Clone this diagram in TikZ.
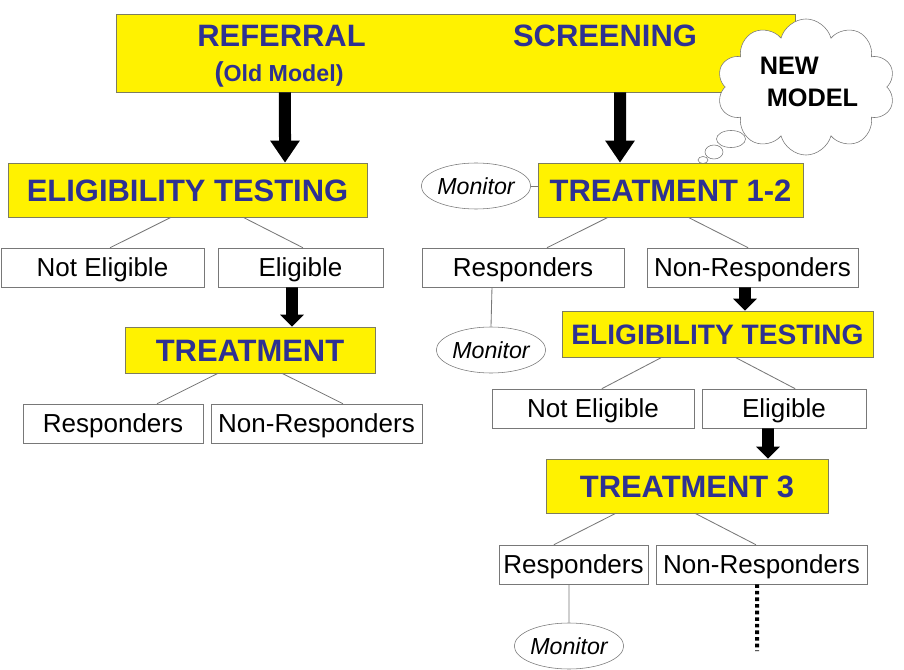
\documentclass[tikz,border=0pt]{standalone}
\usepackage{fontspec}
\setmainfont{Liberation Sans}
\usepackage{tikz}
\usetikzlibrary{arrows.meta,shapes.geometric,shapes.symbols}

\definecolor{titleblue}{RGB}{46,49,146}
\definecolor{boxline}{RGB}{120,120,120}
\definecolor{yellowline}{RGB}{125,125,95}

\begin{document}
\begin{tikzpicture}
	[x=0.025cm,y=-0.025cm,
		title node/.style={rectangle,draw=yellowline,fill=yellow,text=titleblue,font=\bfseries\fontsize{22}{26}\selectfont,inner sep=0pt,text height=16pt,text depth=0pt,minimum height=1.35cm},
		base node/.style={rectangle,draw=boxline,fill=white,font=\fontsize{18.5}{22}\selectfont,inner sep=0pt,text height=13.2pt,text depth=0pt,minimum height=0.975cm},
		monitor node/.style={ellipse,draw=boxline,fill=white,font=\itshape\fontsize{16.5}{20}\selectfont,inner sep=0pt,minimum width=2.725cm,minimum height=1.15cm},
		bubble/.style={ellipse,draw=boxline,fill=white,inner sep=0pt},
		branch/.style={draw=boxline,line width=0.6pt},
		big arrow/.style={line width=0.3cm,-{Triangle[width=0.7cm,length=0.55cm]}},
		small arrow/.style={line width=0.29cm,-{Triangle[width=0.58cm,length=0.3cm]}}]

	\useasboundingbox (0,0) rectangle (904,670);

	% top banner
	\node[title node,minimum width=16.975cm,minimum height=1.95cm] (top) at (455.5,53) {};
	\node[text=titleblue,font=\bfseries\fontsize{22}{26}\selectfont,anchor=base] (referral) at (281.5,47) {REFERRAL};
	\node[text=titleblue,font=\bfseries\fontsize{22}{26}\selectfont,anchor=base] (screening) at (605,47) {SCREENING};
	\node[text=titleblue,font=\bfseries\fontsize{16.5}{20}\selectfont,anchor=base,inner sep=0pt] (oldmodel) at (279,82) {{\fontsize{19.5}{20}\selectfont(}Old Model)};

	% thought cloud
	\node[cloud,cloud puffs=10,draw=boxline,fill=white,minimum width=4.45cm,minimum height=3.4cm] (cloud) at (806,87) {};
	\node[bubble,minimum width=0.725cm,minimum height=0.425cm] (bubble1) at (731,139) {};
	\node[bubble,minimum width=0.45cm,minimum height=0.35cm] (bubble2) at (714,152) {};
	\node[bubble,minimum width=0.25cm,minimum height=0.175cm] (bubble3) at (703,160) {};
	\node[font=\bfseries\fontsize{18}{22.75}\selectfont,align=left,inner sep=0pt] (newmodel) at (809,82) {NEW\\\hspace*{0.175cm}MODEL};

	% old model
	\node[title node,minimum width=8.975cm] (EL1) at (187.5,190) {ELIGIBILITY TESTING};
	\node[base node,minimum width=5.075cm] (NE1) at (102.5,267.5) {Not Eligible};
	\node[base node,minimum width=4.125cm] (E1) at (300.5,267.5) {Eligible};
	\node[title node,minimum width=6.25cm,minimum height=1.15cm] (T1) at (250,350) {TREATMENT};
	\node[base node,minimum width=4.5cm] (R1) at (113,423.5) {Responders};
	\node[base node,minimum width=5.275cm] (NR1) at (316.5,423.5) {Non-Responders};

	% new model
	\node[title node,minimum width=6.625cm] (T12) at (670.5,190) {TREATMENT 1-2};
	\node[monitor node] (mon1) at (476,186) {Monitor};
	\node[base node,minimum width=5.05cm] (R2) at (523,267.5) {Responders};
	\node[base node,minimum width=5.275cm] (NR2) at (752.5,267.5) {Non-Responders};
	\node[monitor node] (mon2) at (491,350) {Monitor};
	\node[title node,minimum width=7.775cm,minimum height=1.15cm,font=\bfseries\fontsize{20}{24}\selectfont,text height=14.4pt] (EL2) at (717.5,334) {ELIGIBILITY TESTING};
	\node[base node,minimum width=5.05cm] (NE2) at (593,408.5) {Not Eligible};
	\node[base node,minimum width=4.1cm] (E2) at (784,408.5) {Eligible};
	\node[title node,minimum width=7.05cm] (T3) at (687,486) {TREATMENT 3};
	\node[base node,minimum width=3.725cm] (R3) at (573.5,564.5) {Responders};
	\node[base node,minimum width=5.275cm] (NR3) at (761.5,564.5) {Non-Responders};
	\node[monitor node] (mon3) at (569,646) {Monitor};
	\coordinate (more) at (757,651);

	\draw[big arrow] ([xshift=-4.2625cm]top.south) -- ([xshift=2.4375cm]EL1.north);
	\draw[big arrow] ([xshift=4.1125cm]top.south) -- ([xshift=-1.2625cm]T12.north);
	\draw[small arrow] ([xshift=-0.2125cm]E1.south) -- ([xshift=1.05cm]T1.north);
	\draw[small arrow] ([xshift=-0.1875cm]NR2.south) -- ([xshift=0.6875cm]EL2.north);
	\draw[small arrow] ([xshift=-0.4cm]E2.south) -- ([xshift=2.025cm]T3.north);

	\path[branch]
	([xshift=-0.41cm]EL1.south) edge ([xshift=0.19cm]NE1.north)
	([xshift=1.39cm]EL1.south) edge ([xshift=0.06cm]E1.north)
	([xshift=-0.8cm]T1.south) edge ([xshift=1.1cm]R1.north)
	([xshift=0.8cm]T1.south) edge ([xshift=0.66cm]NR1.north)
	(mon1.east) edge (mon1.east -| T12.west)
	([xshift=-1.56cm]T12.south) edge ([xshift=0.6cm]R2.north)
	([xshift=0.44cm]T12.south) edge ([xshift=-0.11cm]NR2.north)
	([xshift=-0.775cm]R2.south) edge (mon2.north)
	([xshift=-1.39cm]EL2.south) edge ([xshift=0.22cm]NE2.north)
	([xshift=0.44cm]EL2.south) edge ([xshift=0.28cm]E2.north)
	([xshift=-1.78cm]T3.south) edge ([xshift=-0.49cm]R3.north)
	([xshift=0.2cm]T3.south) edge ([xshift=-0.14cm]NR3.north)
	([xshift=-0.1125cm]R3.south) edge (mon3.north)
	;

	\draw[line width=0.1cm,dash pattern=on 0.09cm off 0.075cm] ([xshift=-0.1125cm]NR3.south) -- (more);

\end{tikzpicture}
\end{document}
